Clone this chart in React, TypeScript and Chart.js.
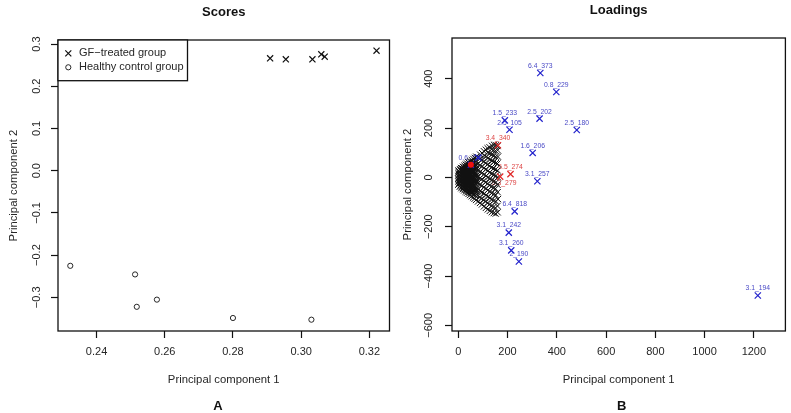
import React, { useEffect, useRef } from "react";
import { Chart, registerables } from "chart.js";

Chart.register(...registerables);

// ---------- Panel A: Scores ----------
const scoresXTicks = [0.24, 0.26, 0.28, 0.3, 0.32];
const scoresYTicks = [-0.3, -0.2, -0.1, 0.0, 0.1, 0.2, 0.3];
const gfTreatedX = [0.2909, 0.2955, 0.3033, 0.3059, 0.3069, 0.3221];
const gfTreatedY = [0.2661, 0.2638, 0.2638, 0.2756, 0.2699, 0.2841];
const healthyX = [0.2323, 0.2513, 0.2518, 0.2577, 0.28, 0.303];
const healthyY = [-0.2254, -0.2458, -0.3225, -0.3055, -0.349, -0.353];

// ---------- Panel B: Loadings ----------
const loadXTicks = [0, 200, 400, 600, 800, 1000, 1200];
const loadYTicks = [-600, -400, -200, 0, 200, 400];
const blueNames = ["6.4_373", "0.8_229", "1.5_233", "2.5_202", "2.5_105", "2.5_180", "1.6_206", "3.1_257", "6.4_818", "3.1_242", "3.1_260", "2_190", "3.1_194", "0.6_338", ""];
const blueX = [333, 398, 189, 330, 208, 481, 302, 321, 229, 205, 215, 246, 1216, 51, 81];
const blueY = [423, 346, 231, 238, 193, 192, 99, -16, -138, -224, -296, -341, -479, 51, 80];
const redNames = ["3.4_340", "6.5_274", "3.3_279"];
const redX = [161, 212, 170];
const redY = [130, 13, 3];
const redDotX = [51];
const redDotY = [51];
const labelsBelow = ["3.3_279"];

// bulk of the (unlabelled) loadings
const clusterPts: [number, number][] = [
  [0, -30], [1, -18], [0, -6], [1, 6], [0, 18], [1, 28],
  [3, -24], [3, -12], [3, 0], [3, 12], [3, 24],
  [6, -38], [5, -26], [6, -14], [7, -2], [6, 10], [5, 22], [7, 33],
  [9, -32], [9, -20], [9, -8], [9, 4], [9, 16], [9, 28],
  [12, -44], [11, -31], [13, -19], [12, -7], [11, 5], [13, 16], [12, 27], [11, 38],
  [15, -37], [15, -25], [15, -13], [15, -1], [15, 11], [15, 22], [15, 32],
  [18, -48], [17, -36], [19, -23], [18, -11], [17, 1], [19, 13], [18, 25], [17, 36], [19, 43],
  [21, -42], [21, -30], [21, -17], [21, -5], [21, 7], [21, 19], [21, 30], [21, 40],
  [24, -53], [23, -40], [25, -28], [24, -15], [23, -3], [25, 9], [24, 21], [23, 33], [25, 47],
  [27, -46], [27, -34], [27, -21], [27, -9], [27, 3], [27, 15], [27, 27], [27, 40],
  [30, -58], [29, -45], [31, -32], [30, -19], [29, -6], [31, 7], [30, 19], [29, 31], [31, 42], [30, 52],
  [33, -50], [33, -38], [33, -25], [33, -12], [33, 0], [33, 12], [33, 24], [33, 36], [33, 48],
  [36, -62], [35, -49], [37, -36], [36, -22], [35, -9], [37, 4], [36, 17], [35, 29], [37, 41], [36, 56],
  [39, -54], [39, -41], [39, -28], [39, -15], [39, -2], [39, 10], [39, 22], [39, 35], [39, 47],
  [42, -67], [41, -53], [43, -39], [42, -25], [41, -12], [43, 2], [42, 15], [41, 28], [43, 40], [42, 51], [41, 61],
  [45, -58], [45, -45], [45, -32], [45, -18], [45, -5], [45, 8], [45, 20], [45, 33], [45, 46], [45, 57],
  [48, -72], [47, -57], [49, -43], [48, -29], [47, -15], [49, -1], [48, 13], [47, 26], [49, 39], [48, 52], [47, 65],
  [51, -60], [51, -46], [51, -32], [51, -18], [51, -4], [51, 10], [51, 24], [51, 38], [51, 52],
  [54, -77], [53, -62], [55, -47], [54, -32], [53, -18], [55, -4], [54, 10], [53, 24], [55, 37], [54, 50], [53, 63], [55, 70],
  [57, -58], [57, -40], [57, -26], [57, -12], [57, 2], [57, 16], [57, 30], [57, 44], [57, 56],
  [60, -82], [59, -66], [61, -50], [60, -35], [59, -20], [61, -6], [60, 8], [59, 22], [61, 36], [60, 49], [59, 62], [61, 75],
  [63, -56], [63, -30], [63, -14], [63, 0], [63, 14], [63, 28], [63, 44],
  [66, -87], [65, -70], [67, -54], [66, -38], [65, -23], [67, -8], [66, 6], [65, 21], [67, 35], [66, 48], [65, 63], [67, 79],
  [69, -48], [69, -18], [69, 12], [69, 42],
  [72, -92], [71, -74], [73, -57], [72, -41], [71, -25], [73, -10], [72, 5], [71, 20], [73, 34], [72, 50], [71, 66], [73, 84],
  [75, -50], [75, -20], [75, 10], [75, 40],
  [80, -98], [79, -74], [81, -48], [80, -22], [79, 4], [81, 30], [80, 56], [79, 82],
  [88, -104], [87, -80], [89, -56], [88, -30], [87, -4], [89, 22], [88, 48], [87, 74], [89, 92],
  [96, -110], [95, -86], [97, -60], [96, -34], [95, -8], [97, 18], [96, 44], [95, 70], [97, 98],
  [104, -118], [103, -92], [105, -66], [104, -40], [103, -14], [105, 12], [104, 38], [103, 64], [105, 88], [104, 106],
  [112, -124], [111, -98], [113, -72], [112, -46], [111, -20], [113, 6], [112, 32], [111, 58], [113, 84], [112, 112],
  [120, -130], [119, -104], [121, -78], [120, -52], [119, -26], [121, 0], [120, 26], [119, 52], [121, 78], [120, 100], [119, 118],
  [128, -136], [127, -110], [129, -84], [128, -58], [127, -32], [129, -6], [128, 20], [127, 46], [129, 72], [128, 96], [127, 122],
  [136, -141], [135, -116], [137, -90], [136, -64], [135, -38], [137, -12], [136, 14], [135, 40], [137, 66], [136, 92], [135, 114], [137, 128],
  [144, -145], [143, -120], [145, -94], [144, -68], [143, -42], [145, -16], [144, 10], [143, 36], [145, 62], [144, 88], [143, 110], [145, 132],
  [152, -147], [151, -124], [153, -98], [152, -72], [151, -46], [153, -20], [152, 6], [151, 32], [153, 58], [152, 84], [151, 108], [153, 130],
  [160, -142], [159, -116], [161, -88], [160, -60], [159, -30], [161, 0], [160, 28], [159, 56], [161, 84], [160, 110], [159, 127],
];

const FONT = '"Liberation Sans", Arial, Helvetica, sans-serif';
const TEXT = "#262626";
const INK = "#111111";

function fmt(v: number, digits: number): string {
  const s = Math.abs(v).toFixed(digits);
  return (v < -1e-12 ? "\u2212" : "") + s;
}

type FrameOpts = {
  title: string;
  letter: string;
  letterX: number;
  xTitle: string;
  yTitle: string;
  xTicks: number[];
  yTicks: number[];
  xDigits: number;
  yDigits: number;
  yLabelOffset: number;
  yTitleX: number;
};

function framePlugin(o: FrameOpts) {
  return {
    id: "frame",
    afterDraw(chart: any) {
      const ctx: CanvasRenderingContext2D = chart.ctx;
      const a = chart.chartArea;
      const xs = chart.scales.x;
      const ys = chart.scales.y;
      const cx = (a.left + a.right) / 2;
      const cy = (a.top + a.bottom) / 2;
      ctx.save();
      ctx.strokeStyle = INK;
      ctx.lineWidth = 1.3;
      ctx.strokeRect(a.left, a.top, a.right - a.left, a.bottom - a.top);

      ctx.fillStyle = TEXT;
      ctx.textAlign = "center";
      ctx.textBaseline = "middle";
      ctx.font = `11px ${FONT}`;
      for (const v of o.xTicks) {
        ctx.fillText(fmt(v, o.xDigits), xs.getPixelForValue(v), a.bottom + 21);
      }
      for (const v of o.yTicks) {
        ctx.save();
        ctx.translate(a.left - o.yLabelOffset, ys.getPixelForValue(v));
        ctx.rotate(-Math.PI / 2);
        ctx.fillText(fmt(v, o.yDigits), 0, 0);
        ctx.restore();
      }
      ctx.font = `11.3px ${FONT}`;
      ctx.fillText(o.xTitle, cx, a.bottom + 48.5);
      ctx.save();
      ctx.translate(o.yTitleX, cy);
      ctx.rotate(-Math.PI / 2);
      ctx.fillText(o.yTitle, 0, 0);
      ctx.restore();

      ctx.fillStyle = "#111";
      ctx.font = `bold 13px ${FONT}`;
      ctx.fillText(o.title, cx, a.top - 28);
      ctx.fillText(o.letter, o.letterX, a.bottom + 75);
      ctx.restore();
    },
  };
}

const legendPlugin = {
  id: "scoresLegend",
  afterDraw(chart: any) {
    const ctx: CanvasRenderingContext2D = chart.ctx;
    const a = chart.chartArea;
    const w = 129.5;
    const h = 40.7;
    ctx.save();
    ctx.fillStyle = "#fff";
    ctx.fillRect(a.left, a.top, w, h);
    ctx.strokeStyle = INK;
    ctx.lineWidth = 1.3;
    ctx.strokeRect(a.left, a.top, w, h);
    const sx = a.left + 10.3;
    const r1 = a.top + 13.3;
    const r2 = a.top + 27.3;
    ctx.lineWidth = 1.2;
    ctx.beginPath();
    ctx.moveTo(sx - 3, r1 - 3);
    ctx.lineTo(sx + 3, r1 + 3);
    ctx.moveTo(sx + 3, r1 - 3);
    ctx.lineTo(sx - 3, r1 + 3);
    ctx.stroke();
    ctx.lineWidth = 0.9;
    ctx.beginPath();
    ctx.arc(sx, r2, 2.6, 0, Math.PI * 2);
    ctx.stroke();
    ctx.fillStyle = TEXT;
    ctx.font = `11px ${FONT}`;
    ctx.textAlign = "left";
    ctx.textBaseline = "middle";
    ctx.fillText("GF\u2212treated group", a.left + 21, r1);
    ctx.fillText("Healthy control group", a.left + 21, r2);
    ctx.restore();
  },
};

const pointLabelPlugin = {
  id: "pointLabels",
  beforeDatasetsDraw(chart: any) {
    const ctx: CanvasRenderingContext2D = chart.ctx;
    const xs = chart.scales.x;
    const ys = chart.scales.y;
    ctx.save();
    ctx.font = `6.8px ${FONT}`;
    ctx.textAlign = "center";
    ctx.textBaseline = "middle";
    const draw = (names: string[], xv: number[], yv: number[], color: string) => {
      ctx.fillStyle = color;
      names.forEach((n, i) => {
        if (!n) return;
        const below = labelsBelow.includes(n);
        const px = xs.getPixelForValue(xv[i]);
        const py = ys.getPixelForValue(yv[i]);
        ctx.fillText(n, below ? px + 4 : px, below ? py + 6.5 : py - 7);
      });
    };
    draw(blueNames, blueX, blueY, "#4a4ac6");
    draw(redNames, redX, redY, "#dd4444");
    ctx.restore();
  },
};

function axisOpts(min: number, max: number, ticks: number[], horizontal: boolean, size: number) {
  return {
    type: "linear" as const,
    min,
    max,
    afterBuildTicks: (s: any) => {
      s.ticks = ticks.map((v) => ({ value: v }));
    },
    afterFit: (s: any) => {
      if (horizontal) s.height = size;
      else s.width = size;
    },
    ticks: { display: false },
    grid: {
      display: true,
      drawOnChartArea: false,
      drawTicks: true,
      tickLength: 7,
      tickColor: INK,
      tickWidth: 1.2,
    },
    border: { display: false },
  };
}

function toPts(xs: number[], ys: number[]) {
  return xs.map((x, i) => ({ x, y: ys[i] }));
}

function ScoresChart() {
  const ref = useRef<HTMLCanvasElement>(null);
  useEffect(() => {
    if (!ref.current) return;
    const chart = new Chart(ref.current, {
      type: "scatter",
      data: {
        datasets: [
          {
            label: "GF\u2212treated group",
            data: toPts(gfTreatedX, gfTreatedY),
            pointStyle: "crossRot",
            pointRadius: 4.3,
            borderColor: INK,
            borderWidth: 1.2,
            backgroundColor: "transparent",
          },
          {
            label: "Healthy control group",
            data: toPts(healthyX, healthyY),
            pointStyle: "circle",
            pointRadius: 2.6,
            borderColor: INK,
            borderWidth: 0.9,
            backgroundColor: "transparent",
          },
        ],
      },
      options: {
        animation: false,
        responsive: false,
        maintainAspectRatio: false,
        events: [],
        layout: { padding: { left: 0, right: 3, top: 40, bottom: 0 } },
        plugins: { legend: { display: false }, tooltip: { enabled: false } },
        scales: {
          x: axisOpts(0.2287, 0.3259, scoresXTicks, true, 82) as any,
          y: axisOpts(-0.3798, 0.3095, scoresYTicks, false, 58) as any,
        },
      },
      plugins: [
        framePlugin({
          title: "Scores",
          letter: "A",
          letterX: 218,
          xTitle: "Principal component 1",
          yTitle: "Principal component 2",
          xTicks: scoresXTicks,
          yTicks: scoresYTicks,
          xDigits: 2,
          yDigits: 1,
          yLabelOffset: 21,
          yTitleX: 13.5,
        }),
        legendPlugin,
      ],
    });
    return () => chart.destroy();
  }, []);
  return <canvas ref={ref} width={395} height={413} style={{ position: "absolute", left: 0, top: 0 }} />;
}

function LoadingsChart() {
  const ref = useRef<HTMLCanvasElement>(null);
  useEffect(() => {
    if (!ref.current) return;
    const chart = new Chart(ref.current, {
      type: "scatter",
      data: {
        datasets: [
          {
            label: "highlight",
            data: toPts(redDotX, redDotY),
            pointStyle: "circle",
            pointRadius: 3,
            borderColor: "#ee1111",
            borderWidth: 0,
            backgroundColor: "#ee1111",
          },
          {
            label: "blue",
            data: toPts(blueX, blueY),
            pointStyle: "crossRot",
            pointRadius: 4.4,
            borderColor: "#2222cc",
            borderWidth: 1.2,
            backgroundColor: "transparent",
          },
          {
            label: "red",
            data: toPts(redX, redY),
            pointStyle: "crossRot",
            pointRadius: 4.4,
            borderColor: "#e02828",
            borderWidth: 1.2,
            backgroundColor: "transparent",
          },
          {
            label: "other",
            data: clusterPts.map(([x, y]) => ({ x, y })),
            pointStyle: "crossRot",
            pointRadius: 4.4,
            borderColor: INK,
            borderWidth: 1,
            backgroundColor: "transparent",
          },
        ],
      },
      options: {
        animation: false,
        responsive: false,
        maintainAspectRatio: false,
        events: [],
        layout: { padding: { left: 0, right: 4, top: 38, bottom: 0 } },
        plugins: { legend: { display: false }, tooltip: { enabled: false } },
        scales: {
          x: axisOpts(-25.5, 1328, loadXTicks, true, 82) as any,
          y: axisOpts(-623, 565, loadYTicks, false, 57) as any,
        },
      },
      plugins: [
        pointLabelPlugin,
        framePlugin({
          title: "Loadings",
          letter: "B",
          letterX: 226.7,
          xTitle: "Principal component 1",
          yTitle: "Principal component 2",
          xTicks: loadXTicks,
          yTicks: loadYTicks,
          xDigits: 0,
          yDigits: 0,
          yLabelOffset: 23.5,
          yTitleX: 13,
        }),
      ],
    });
    return () => chart.destroy();
  }, []);
  return <canvas ref={ref} width={396} height={413} style={{ position: "absolute", left: 395, top: 0 }} />;
}

export default function App() {
  return (
    <div style={{ position: "fixed", left: 0, top: 0, width: 791, height: 413, background: "#fff", overflow: "hidden" }}>
      <ScoresChart />
      <LoadingsChart />
    </div>
  );
}
